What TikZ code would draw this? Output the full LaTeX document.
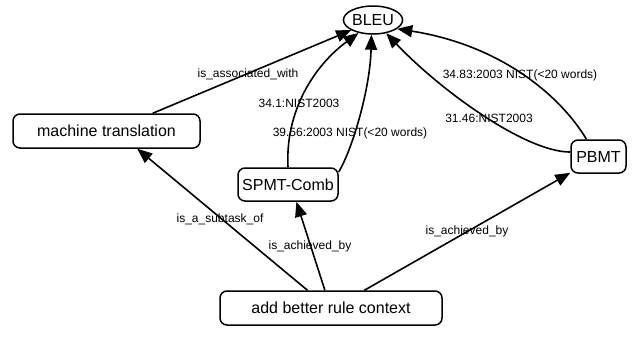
\documentclass[tikz,border=0pt]{standalone}
\usepackage{fontspec}
\setmainfont{Liberation Sans}
\usetikzlibrary{arrows.meta,shapes.geometric}
\tikzset{
  concept/.style={draw, line width=1.5pt, rounded corners=7pt, inner sep=0pt,
    font=\fontsize{16}{18}\selectfont},
  oval/.style={draw, ellipse, line width=1.5pt, inner sep=0pt,
    font=\fontsize{16}{18}\selectfont},
  rel/.style={line width=1.6pt, -{Triangle[length=15pt,width=12pt]}},
  rellabel/.style={font=\fontsize{12}{14}\selectfont, inner sep=0pt}
}
\begin{document}
\begin{tikzpicture}[x=1pt, y=-1pt]
\useasboundingbox (0,0) rectangle (637,338);

% concepts
\node[oval, minimum width=57pt, minimum height=28pt] (bleu) at (373,20) {BLEU};
\node[concept, minimum width=187pt, minimum height=34pt] (mt) at (106.5,131) {machine translation};
\node[concept, minimum width=100pt, minimum height=33pt] (spmt) at (288,184.5) {SPMT-Comb};
\node[concept, minimum width=55pt, minimum height=33pt] (pbmt) at (598.5,156.5) {PBMT};
\node[concept, minimum width=222pt, minimum height=34pt] (abrc) at (331,308) {add better rule context};

% relations towards BLEU
\draw[rel] (mt.21) -- (bleu.205);
\draw[rel] (spmt.north) .. controls (285,110) and (315,65) .. (bleu.222);
\draw[rel] (spmt.14) .. controls (352,150) and (370,90) .. (bleu.264);
\draw[rel] (pbmt.171) .. controls (525,152) and (440,90) .. (bleu.-45);
\draw[rel] (pbmt.125) .. controls (560,95) and (500,45) .. (bleu.-20);

% relations from the method
\draw[rel] (abrc.143.5) -- (mt.-30);
\draw[rel] (abrc.109.4) -- (spmt.-64);
\draw[rel] (abrc.28.7) -- (pbmt.210.3);

% relation labels
\node[rellabel] (l1) at (248,74) {is\_associated\_with};
\node[rellabel] (l2) at (299,103) {34.1:NIST2003};
\node[rellabel] (l3) at (350,133) {39.56:2003 NIST(<20 words)};
\node[rellabel] (l4) at (489,118) {31.46:NIST2003};
\node[rellabel] (l5) at (520,75) {34.83:2003 NIST(<20 words)};
\node[rellabel] (l6) at (220,219) {is\_a\_subtask\_of};
\node[rellabel] (l7) at (310,246) {is\_achieved\_by};
\node[rellabel] (l8) at (467,231) {is\_achieved\_by};
\end{tikzpicture}
\end{document}
